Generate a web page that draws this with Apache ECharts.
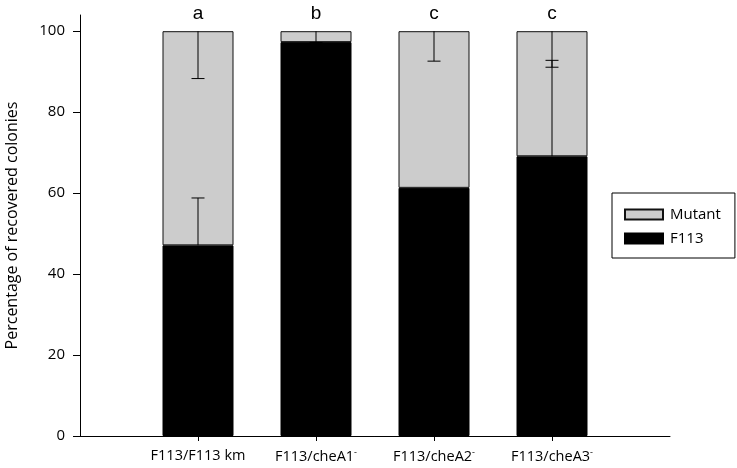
<!DOCTYPE html>
<html>
<head>
<meta charset="utf-8">
<script src="https://cdn.jsdelivr.net/npm/echarts@6/dist/echarts.min.js"></script>
<style>
  html, body { margin: 0; padding: 0; background: #fff; }
  #chart { width: 737px; height: 468px; }
</style>
</head>
<body>
<div id="chart"></div>
<script>
// strains, padded with empty slots at both ends of the axis
const strains = ['', 'F113/F113 km', 'F113/cheA1', 'F113/cheA2', 'F113/cheA3', '']
const strainSup = ['', '', '-', '-', '-', '']
const groupLetters = ['', 'a', 'b', 'c', 'c', '']

// percentage of recovered colonies
const f113Values = ['-', 47.1, 97.3, 61.3, 69.1, '-']
const mutantValues = ['-', 52.9, 2.7, 38.7, 30.9, '-']

// one-sided error bars: [category index, from, to]
const f113Errors = [[1, 47.1, 58.8], [4, 69.1, 92.8]]
const mutantErrors = [[1, 100, 88.3], [2, 100, 97.2], [3, 100, 92.6], [4, 100, 91.1]]

const yTicks = [0, 20, 40, 60, 80, 100]

const font = 'Open Sans'

function errorBar(params, api) {
  const x = api.value(0)
  const p0 = api.coord([x, api.value(1)])
  const p1 = api.coord([x, api.value(2)])
  const style = { stroke: '#000', lineWidth: 1 }
  return {
    type: 'group',
    children: [
      { type: 'line', shape: { x1: p0[0], y1: p0[1], x2: p1[0], y2: p1[1] }, style: style },
      { type: 'line', shape: { x1: p1[0] - 6.5, y1: p1[1], x2: p1[0] + 6.5, y2: p1[1] }, style: style }
    ]
  }
}

const chart = echarts.init(document.getElementById('chart'))
chart.setOption({
  animation: false,
  grid: { left: 80, right: 67, top: 15, bottom: 32, outerBoundsMode: 'none', containLabel: false },
  legend: {
    orient: 'vertical',
    left: 612,
    top: 193,
    data: ['Mutant', 'F113'],
    icon: 'rect',
    width: 100,
    padding: [14, 14, 12, 12],
    itemGap: 9,
    itemWidth: 38,
    itemHeight: 10,
    borderColor: '#000',
    borderWidth: 1,
    borderRadius: 0,
    textStyle: { fontFamily: font, fontSize: 15, color: '#000', padding: [0, 0, 0, 2] }
  },
  xAxis: {
    type: 'category',
    boundaryGap: false,
    data: strains,
    axisLine: { show: true, lineStyle: { color: '#000', width: 1 } },
    axisTick: {
      show: true,
      interval: (i, v) => v !== '',
      length: 5,
      lineStyle: { color: '#000' }
    },
    axisLabel: {
      interval: 0,
      margin: 12,
      formatter: function (v, i) {
        if (!v) return ''
        return strainSup[i] ? v + '{sup|' + strainSup[i] + '}' : v
      },
      color: '#000',
      fontFamily: font,
      fontSize: 14.5,
      rich: { sup: { fontFamily: font, fontSize: 9, color: '#000', verticalAlign: 'top', padding: [0, 0, 8, 0] } }
    }
  },
  yAxis: {
    type: 'value',
    min: 0,
    max: 104,
    name: 'Percentage of recovered colonies',
    nameLocation: 'middle',
    nameGap: 60,
    nameTextStyle: { fontFamily: font, fontSize: 16, color: '#000' },
    splitLine: { show: false },
    axisLine: { show: true, lineStyle: { color: '#000', width: 1 } },
    axisTick: { show: true, customValues: yTicks, length: 7, lineStyle: { color: '#000' } },
    axisLabel: { customValues: yTicks, margin: 15, color: '#000', fontFamily: font, fontSize: 15 }
  },
  series: [
    {
      name: 'F113',
      type: 'bar',
      stack: 'total',
      barWidth: 71,
      itemStyle: { color: '#000', borderColor: '#000', borderWidth: 1 },
      data: f113Values
    },
    {
      name: 'Mutant',
      type: 'bar',
      stack: 'total',
      barWidth: 71,
      itemStyle: { color: '#cccccc', borderColor: '#111', borderWidth: 1 },
      label: {
        show: true,
        position: 'top',
        distance: 8,
        formatter: (p) => groupLetters[p.dataIndex],
        fontFamily: 'Liberation Sans',
        fontSize: 19,
        color: '#000'
      },
      data: mutantValues
    },
    {
      type: 'custom',
      renderItem: errorBar,
      z: 10,
      silent: true,
      data: f113Errors
    },
    {
      type: 'custom',
      renderItem: errorBar,
      z: 10,
      silent: true,
      data: mutantErrors
    }
  ]
})
</script>
</body>
</html>
